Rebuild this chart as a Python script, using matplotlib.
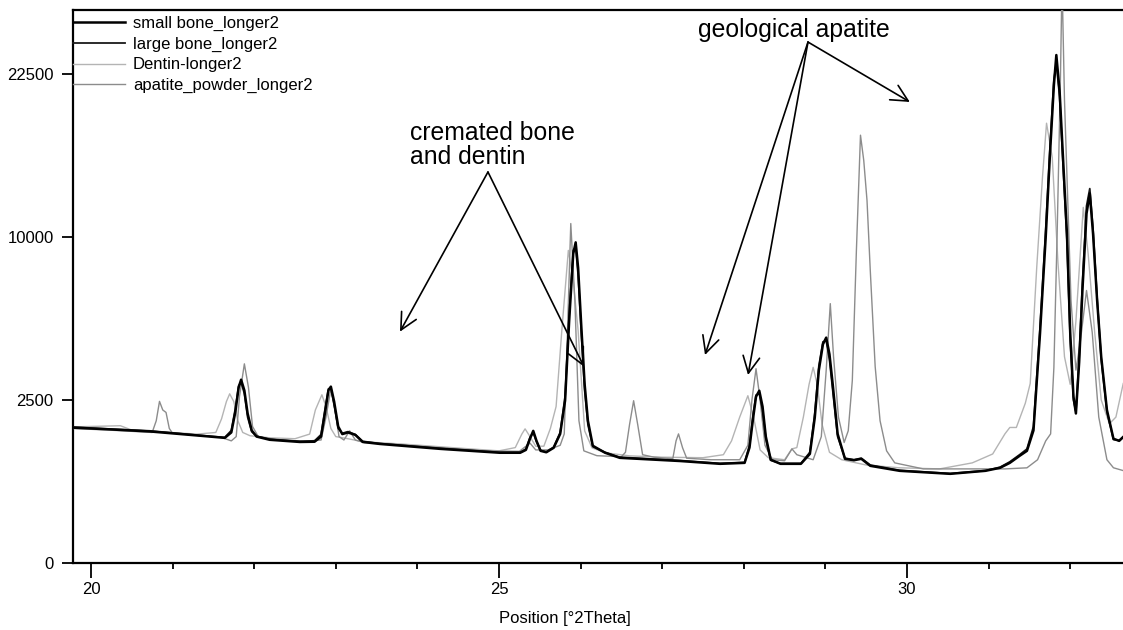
import numpy as np
import matplotlib
matplotlib.use("Agg")
import matplotlib.pyplot as plt

plt.rcParams.update({
    "font.family": ["Liberation Sans", "DejaVu Sans"], "font.size": 12,
})

# ---- data: position [deg 2theta], intensity [counts] ----
BONE_X = [19.78, 20.20, 20.72, 21.34, 21.64, 21.72, 21.77, 21.81, 21.84, 21.88,
          21.92, 21.97, 22.03, 22.19, 22.56, 22.74, 22.82, 22.87, 22.91, 22.94,
          22.98, 23.03, 23.08, 23.15, 23.24, 23.33, 23.54, 24.28, 25.01, 25.26,
          25.33, 25.38, 25.42, 25.46, 25.51, 25.58, 25.67, 25.75, 25.81, 25.86,
          25.91, 25.94, 25.97, 26.01, 26.05, 26.09, 26.15, 26.30, 26.48, 27.22,
          27.71, 28.01, 28.07, 28.11, 28.15, 28.19, 28.23, 28.27, 28.33, 28.45,
          28.70, 28.81, 28.87, 28.92, 28.97, 29.01, 29.05, 29.09, 29.15, 29.24,
          29.35, 29.44, 29.55, 29.91, 30.53, 30.96, 31.14, 31.26, 31.38, 31.47,
          31.55, 31.63, 31.70, 31.75, 31.80, 31.83, 31.87, 31.92, 31.96, 32.00,
          32.04, 32.07, 32.11, 32.15, 32.20, 32.24, 32.28, 32.33, 32.38, 32.45,
          32.53, 32.60, 32.65]
SMALL_Y = [1720, 1680, 1625, 1520, 1470, 1600, 2150, 2900, 3160, 2800,
           2100, 1650, 1500, 1425, 1375, 1380, 1500, 2150, 2800, 2925,
           2450, 1750, 1560, 1600, 1540, 1375, 1330, 1222, 1140, 1140,
           1200, 1450, 1640, 1400, 1180, 1150, 1245, 1565, 2475, 5500,
           9000, 9680, 8200, 5200, 3000, 1900, 1290, 1140, 1037, 975,
           922, 940, 1250, 1900, 2600, 2790, 2300, 1500, 1000, 922,
           922, 1117, 1985, 3500, 4500, 4780, 4100, 3000, 1565, 1018,
           990, 1018, 885, 796, 745, 796, 849, 940, 1077, 1180,
           1650, 4950, 10000, 15500, 21500, 24310, 21000, 14500, 10210, 5000,
           2600, 2100, 3800, 7000, 11500, 12860, 10200, 6480, 4000, 2200,
           1450, 1400, 1490]
LARGE_Y = [1735, 1690, 1640, 1530, 1480, 1650, 2250, 2950, 3080, 2700,
           2000, 1620, 1510, 1440, 1390, 1400, 1550, 2250, 2850, 2880,
           2350, 1700, 1580, 1620, 1550, 1390, 1340, 1235, 1150, 1150,
           1220, 1480, 1600, 1380, 1190, 1160, 1260, 1600, 2600, 5800,
           9200, 9400, 7800, 4900, 2800, 1800, 1270, 1150, 1050, 985,
           930, 950, 1300, 2000, 2650, 2700, 2200, 1450, 990, 930,
           930, 1150, 2100, 3650, 4600, 4650, 3900, 2800, 1500, 1030,
           1000, 1030, 900, 805, 750, 800, 860, 960, 1100, 1220,
           1750, 5200, 10500, 16000, 22000, 23500, 20500, 14000, 9800, 4700,
           2500, 2150, 4000, 7400, 12000, 13200, 10500, 6600, 3900, 2150,
           1430, 1410, 1500]

DENTIN_X = [19.78, 20.36, 20.50, 20.90, 21.30, 21.53, 21.60, 21.66, 21.70, 21.75,
            21.80, 21.86, 21.95, 22.20, 22.50, 22.68, 22.75, 22.83, 22.88, 22.94,
            23.00, 23.15, 23.33, 23.80, 24.50, 25.00, 25.20, 25.28, 25.32, 25.38,
            25.45, 25.55, 25.63, 25.70, 25.77, 25.85, 25.91, 25.97, 26.05, 26.14,
            26.30, 26.60, 27.00, 27.50, 27.75, 27.85, 27.95, 28.05, 28.12, 28.20,
            28.30, 28.50, 28.59, 28.65, 28.73, 28.80, 28.85, 28.90, 28.96, 29.05,
            29.20, 29.50, 29.90, 30.40, 30.80, 31.05, 31.20, 31.26, 31.34, 31.45,
            31.51, 31.59, 31.66, 31.71, 31.78, 31.85, 31.93, 32.00, 32.07, 32.16,
            32.22, 32.30, 32.38, 32.48, 32.56, 32.65]
DENTIN_Y = [1740, 1770, 1660, 1610, 1560, 1600, 1950, 2450, 2690, 2450,
            1900, 1600, 1520, 1470, 1450, 1560, 2200, 2660, 2300, 1700,
            1500, 1450, 1380, 1330, 1240, 1180, 1250, 1560, 1690, 1500,
            1280, 1280, 1700, 2300, 5080, 9200, 7500, 5080, 1640, 1245,
            1140, 1077, 1050, 1040, 1100, 1400, 2000, 2630, 2000, 1200,
            1040, 1000, 1222, 1250, 2000, 3000, 3600, 3000, 1800, 1150,
            1000, 900, 850, 830, 940, 1115, 1565, 1725, 1725, 2400,
            3030, 8240, 14000, 18220, 15500, 8500, 4000, 3000, 5500, 11910,
            9000, 5000, 2500, 1820, 2000, 3030]

APAT_X = [19.78, 20.30, 20.75, 20.80, 20.84, 20.88, 20.92, 20.96, 21.00, 21.30,
          21.60, 21.72, 21.78, 21.82, 21.88, 21.93, 21.98, 22.05, 22.30, 22.60,
          22.82, 22.88, 22.94, 22.99, 23.04, 23.10, 23.17, 23.24, 23.35, 24.00,
          24.80, 25.25, 25.38, 25.45, 25.60, 25.75, 25.80, 25.84, 25.88, 25.93,
          25.98, 26.04, 26.20, 26.50, 26.55, 26.60, 26.65, 26.70, 26.76, 26.90,
          27.13, 27.17, 27.20, 27.25, 27.30, 27.60, 27.95, 28.05, 28.10, 28.15,
          28.20, 28.26, 28.35, 28.50, 28.59, 28.65, 28.85, 28.95, 29.01, 29.06,
          29.10, 29.16, 29.23, 29.28, 29.33, 29.38, 29.43, 29.47, 29.51, 29.55,
          29.61, 29.67, 29.75, 29.85, 30.20, 30.80, 31.20, 31.47, 31.60, 31.70,
          31.76, 31.80, 31.84, 31.88, 31.90, 31.93, 31.97, 32.01, 32.07, 32.12,
          32.20, 32.27, 32.35, 32.45, 32.53, 32.65]
APAT_Y = [1700, 1650, 1600, 1900, 2455, 2200, 2130, 1700, 1580, 1530,
          1480, 1400, 1500, 2600, 3730, 2900, 1750, 1500, 1420, 1390,
          1420, 2000, 2850, 2200, 1500, 1420, 1640, 1420, 1360, 1280,
          1180, 1170, 1350, 1200, 1200, 1300, 1565, 5080, 10850, 6480,
          1900, 1180, 1080, 1060, 1150, 1800, 2475, 1800, 1100, 1050,
          1020, 1400, 1565, 1245, 1030, 1000, 1000, 1300, 2500, 3550,
          2500, 1300, 1000, 980, 1222, 1100, 1000, 1500, 3500, 6330,
          4000, 2000, 1363, 1642, 3130, 9200, 17240, 15270, 12380, 8060,
          3630, 1900, 1180, 940, 830, 830, 830, 849, 1000, 1400,
          1565, 3590, 10210, 22000, 32000, 20180, 12380, 6480, 3500, 4500,
          6990, 5000, 2000, 1000, 850, 800]

LABELS = ["small bone_longer2", "large bone_longer2", "Dentin-longer2", "apatite_powder_longer2"]
YTICKS = [0, 2500, 10000, 22500]

assert len(BONE_X) == len(SMALL_Y) == len(LARGE_Y)
assert len(DENTIN_X) == len(DENTIN_Y) and len(APAT_X) == len(APAT_Y)

fig = plt.figure(figsize=(11.23, 6.3), dpi=100)
ax = fig.add_axes([73 / 1123, 67.3 / 630, 1050 / 1123, 552.7 / 630])

ax.plot(BONE_X, SMALL_Y, color="#000000", lw=1.8, label=LABELS[0], zorder=5)
ax.plot(BONE_X, LARGE_Y, color="#1a1a1a", lw=1.3, label=LABELS[1], zorder=4)
ax.plot(DENTIN_X, DENTIN_Y, color="#b4b4b4", lw=1.0, label=LABELS[2], zorder=2)
ax.plot(APAT_X, APAT_Y, color="#8c8c8c", lw=1.0, label=LABELS[3], zorder=3)

# square-root intensity axis, as in the instrument software
ax.set_yscale("function", functions=(lambda v: np.sqrt(np.clip(v, 0, None)), np.square))
ax.set_ylim(0, 28815)
ax.set_xlim(19.78, 32.647)
ax.set_yticks(YTICKS)
ax.set_yticklabels([str(v) for v in YTICKS])
ax.yaxis.set_minor_locator(matplotlib.ticker.NullLocator())
ax.set_xticks([20, 25, 30])
ax.set_xticks(np.arange(20, 33), minor=True)
ax.tick_params(axis="x", which="major", length=11, width=1.3, pad=3, labelsize=12)
ax.tick_params(axis="x", which="minor", length=4.3, width=1.3)
ax.tick_params(axis="y", which="major", length=8, width=1.3, pad=6, labelsize=12)

for s in ("left", "bottom", "top"):
    ax.spines[s].set_linewidth(1.6)
ax.spines["right"].set_visible(False)

ax.set_xlabel("Position [°2Theta]", fontsize=12)
ax.xaxis.set_label_coords(0.4686, -0.087)

leg = ax.legend(loc="upper left", bbox_to_anchor=(-0.0055, 1), frameon=False, fontsize=12,
                borderaxespad=0, borderpad=0.35, handlelength=3.1, handletextpad=0.5,
                labelspacing=0.34)

# annotations
arrow = dict(arrowstyle="->,head_length=0.6,head_width=0.3", color="black", lw=1.2,
             shrinkA=0, shrinkB=0, mutation_scale=20)
ax.text(0.321, 0.8, "cremated bone\nand dentin", transform=ax.transAxes,
        fontsize=17.8, va="top", ha="left", linespacing=1.02)
for tip in [(0.3114, 0.418), (0.4867, 0.3546)]:
    ax.annotate("", xy=tip, xytext=(0.3952, 0.7069), xycoords="axes fraction",
                textcoords="axes fraction", arrowprops=arrow)
ax.text(0.595, 0.985, "geological apatite", transform=ax.transAxes,
        fontsize=17.8, va="top", ha="left")
for tip in [(0.797, 0.8336), (0.6019, 0.3758), (0.6429, 0.3396)]:
    ax.annotate("", xy=tip, xytext=(0.700, 0.942), xycoords="axes fraction",
                textcoords="axes fraction", arrowprops=arrow)

fig.savefig("out.png", dpi=100)
